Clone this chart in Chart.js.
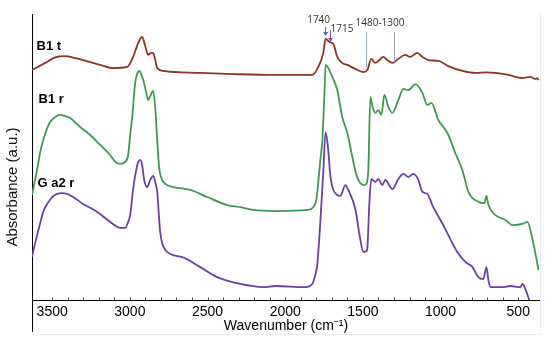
<!DOCTYPE html>
<html>
<head>
<meta charset="utf-8">
<script src="https://cdn.jsdelivr.net/npm/chart.js@4"></script>
<style>
  body { margin: 0; background: #fff; }
  #wrap { width: 550px; height: 344px; }
</style>
</head>
<body>
<div id="wrap"><canvas id="ftir"></canvas></div>
<script>
// B1 t (top trace)
const b1tWn = [3630, 3545, 3481, 3416, 3352, 3301, 3191, 3107, 3017, 2979, 2946, 2921, 2901, 2882, 2863, 2850, 2824, 2785,
  2547, 2335, 2064, 1826, 1787, 1755, 1740, 1715, 1690, 1665, 1633, 1600, 1549, 1497, 1472, 1446, 1420, 1394, 1369, 1343,
  1311, 1272, 1227, 1195, 1150, 1117, 1079, 1014, 950, 860, 776, 705, 647, 564, 473, 422, 390, 377, 370];
const b1tAbs = [80.4, 82.9, 84.8, 85.3, 84.6, 83.9, 82.2, 81.1, 81.5, 85.0, 89.9, 92.0, 88.8, 85.7, 86.4, 86.4, 81.1, 80.1,
  79.4, 79.0, 78.7, 78.7, 81.5, 86.4, 91.3, 90.2, 89.5, 85.0, 82.9, 82.2, 80.8, 79.7, 80.4, 84.3, 82.9, 83.9, 85.0, 83.9,
  82.9, 84.3, 85.7, 85.0, 86.4, 85.0, 83.9, 83.6, 81.8, 80.1, 79.4, 79.6, 79.4, 78.7, 77.6, 78.0, 77.3, 77.6, 76.9];

// B1 r (middle trace)
const b1rWn = [3630, 3610, 3597, 3577, 3558, 3532, 3513, 3481, 3449, 3416, 3384, 3320, 3255, 3191, 3127, 3094, 3062, 3030,
  3011, 2998, 2985, 2966, 2953, 2940, 2927, 2914, 2895, 2882, 2869, 2850, 2837, 2824, 2811, 2792, 2772, 2721, 2611, 2502,
  2373, 2289, 2206, 2064, 1852, 1819, 1800, 1787, 1774, 1761, 1748, 1740, 1723, 1697, 1665, 1633, 1600, 1568, 1542, 1517,
  1497, 1478, 1465, 1452, 1439, 1420, 1401, 1381, 1362, 1336, 1311, 1272, 1240, 1208, 1162, 1117, 1085, 1059, 1014, 956,
  905, 860, 821, 757, 718, 705, 692, 647, 583, 538, 473, 441, 409, 390, 370];
const b1rAbs = [36.7, 42.0, 45.5, 51.7, 55.9, 60.1, 62.2, 64.0, 64.7, 64.3, 63.6, 60.5, 57.7, 54.2, 50.7, 48.3, 47.6, 48.3,
  50.7, 57.7, 64.0, 75.9, 79.0, 80.1, 79.0, 76.9, 72.7, 69.9, 71.3, 73.1, 67.5, 55.9, 46.1, 42.0, 40.6, 39.5, 38.5, 36.0,
  33.2, 32.5, 31.5, 31.1, 31.5, 32.5, 35.0, 41.3, 49.0, 55.9, 71.7, 82.2, 81.1, 78.0, 73.4, 64.0, 58.4, 50.0, 43.7, 40.9,
  40.2, 40.6, 45.5, 71.0, 67.8, 65.4, 66.4, 64.7, 71.7, 67.5, 65.4, 69.9, 73.8, 73.4, 75.5, 72.4, 68.2, 68.9, 62.9, 58.4,
  51.4, 45.5, 37.8, 34.3, 33.9, 36.4, 33.2, 29.7, 28.0, 26.2, 26.6, 27.3, 21.3, 16.4, 10.5];

// G a2 r (bottom trace)
const ga2rWn = [3630, 3610, 3597, 3577, 3558, 3532, 3500, 3468, 3436, 3404, 3365, 3301, 3210, 3127, 3062, 3030, 3011, 2998,
  2979, 2959, 2946, 2934, 2921, 2908, 2888, 2869, 2850, 2837, 2824, 2805, 2772, 2663, 2547, 2438, 2289, 2141, 2064, 1871,
  1826, 1807, 1794, 1774, 1755, 1740, 1723, 1710, 1665, 1645, 1613, 1594, 1549, 1517, 1497, 1478, 1472, 1459, 1446, 1420,
  1401, 1375, 1356, 1311, 1272, 1240, 1208, 1175, 1143, 1117, 1085, 1053, 969, 937, 892, 840, 795, 757, 725, 705, 692, 679,
  602, 551, 486, 473, 454, 429];
const ga2rAbs = [15.0, 19.9, 22.7, 26.9, 30.8, 33.6, 36.0, 37.1, 37.4, 37.1, 36.0, 33.6, 30.8, 27.3, 25.2, 25.2, 27.3, 29.7,
  38.8, 45.5, 48.3, 49.0, 47.2, 42.0, 39.5, 42.0, 43.4, 41.3, 37.8, 23.8, 17.5, 15.0, 11.5, 8.0, 5.6, 4.5, 4.9, 4.5,
  5.6, 8.7, 12.2, 27.3, 44.8, 58.7, 52.4, 43.7, 36.7, 36.4, 40.2, 38.5, 31.8, 21.3, 16.8, 17.1, 17.8, 33.2, 42.3, 41.3,
  42.3, 40.2, 42.0, 38.8, 42.3, 44.1, 43.0, 44.1, 42.0, 37.8, 37.1, 33.2, 24.8, 21.3, 16.8, 13.3, 11.5, 8.0, 7.3, 11.5, 7.0, 4.5,
  4.5, 4.9, 4.5, 5.6, 3.8, 0];

const seriesNames = ['B1 t', 'B1 r', 'G a2 r'];
const xTickLabels = [3500, 3000, 2500, 2000, 1500, 1000, 500];
const bandMarks = [1740, 1715];
const bandRange = [1480, 1300];

function pairs(wn, abs) {
  return wn.map((w, i) => ({ x: w, y: abs[i] }));
}

const extras = {
  id: 'extras',
  afterDraw(chart) {
    const { ctx, chartArea, scales } = chart;
    const x = scales.x;
    const left = chartArea.left + 0.5;
    ctx.save();

    // faint outer frame
    ctx.strokeStyle = '#ececec';
    ctx.lineWidth = 1;
    ctx.beginPath();
    ctx.moveTo(540.5, chartArea.top);
    ctx.lineTo(540.5, 334.5);
    ctx.lineTo(left, 334.5);
    ctx.stroke();

    // left axis runs below the x axis
    ctx.strokeStyle = '#000';
    ctx.beginPath();
    ctx.moveTo(left, chartArea.bottom);
    ctx.lineTo(left, chartArea.bottom + 32);
    ctx.stroke();

    // small inward ticks every 100 cm-1
    ctx.strokeStyle = '#333';
    ctx.beginPath();
    x.ticks.forEach(t => {
      const px = Math.round(x.getPixelForValue(t.value)) + 0.5;
      if (px <= chartArea.left + 1 || px >= chartArea.right - 1) return;
      ctx.moveTo(px, chartArea.bottom);
      ctx.lineTo(px, chartArea.bottom - 2.5);
    });
    ctx.stroke();

    // y title
    ctx.fillStyle = '#111';
    ctx.font = '15px "Liberation Sans", Arial, sans-serif';
    ctx.textAlign = 'center';
    ctx.textBaseline = 'middle';
    ctx.save();
    ctx.translate(13, 187);
    ctx.rotate(-Math.PI / 2);
    ctx.fillText('Absorbance (a.u.)', 0, 0);
    ctx.restore();

    // trace names
    ctx.font = 'bold 13px "Liberation Sans", Arial, sans-serif';
    ctx.textAlign = 'left';
    ctx.fillStyle = '#000';
    ctx.fillText(seriesNames[0], left + 4, 46);
    ctx.fillText(seriesNames[1], left + 6, 99);
    ctx.fillText(seriesNames[2], left + 5, 183);

    // band annotations
    ctx.font = '10px "Open Sans", sans-serif';
    ctx.fillStyle = '#333';
    const p1740 = x.getPixelForValue(bandMarks[0]);
    const p1715 = x.getPixelForValue(bandMarks[1]);
    ctx.textAlign = 'center';
    ctx.fillText(String(bandMarks[0]), p1740 - 7, 20);
    ctx.textAlign = 'left';
    ctx.fillText(String(bandMarks[1]), p1715 + 1, 29);
    ctx.textAlign = 'center';
    const pa = x.getPixelForValue(bandRange[0]);
    const pb = x.getPixelForValue(bandRange[1]);
    ctx.fillText(bandRange[0] + '-' + bandRange[1], (pa + pb) / 2, 23);

    // arrows
    function arrow(px, y0, y1, col) {
      ctx.strokeStyle = col;
      ctx.fillStyle = col;
      ctx.lineWidth = 1;
      ctx.beginPath();
      ctx.moveTo(px, y0);
      ctx.lineTo(px, y1 - 3);
      ctx.stroke();
      ctx.beginPath();
      ctx.moveTo(px - 2.5, y1 - 4);
      ctx.lineTo(px + 2.5, y1 - 4);
      ctx.lineTo(px, y1);
      ctx.closePath();
      ctx.fill();
    }
    arrow(p1740, 27, 36, '#4b5fc4');
    arrow(p1715 + 1, 30, 42, '#8a4fd0');

    ctx.strokeStyle = '#9aa6cc';
    ctx.beginPath();
    ctx.moveTo(Math.round(pa) + 0.5, 32);
    ctx.lineTo(Math.round(pa) + 0.5, 67);
    ctx.moveTo(Math.round(pb) + 0.5, 32);
    ctx.lineTo(Math.round(pb) + 0.5, 62);
    ctx.stroke();

    ctx.restore();
  }
};

new Chart(document.getElementById('ftir'), {
  type: 'line',
  data: {
    datasets: [
      { label: seriesNames[0], data: pairs(b1tWn, b1tAbs), borderColor: '#8e3420', borderWidth: 1.8 },
      { label: seriesNames[1], data: pairs(b1rWn, b1rAbs), borderColor: '#3e9a50', borderWidth: 1.8 },
      { label: seriesNames[2], data: pairs(ga2rWn, ga2rAbs), borderColor: '#6840a6', borderWidth: 1.8 }
    ]
  },
  options: {
    responsive: true,
    maintainAspectRatio: false,
    animation: false,
    layout: { padding: { left: 0, top: 14, right: 10, bottom: 0 } },
    elements: {
      point: { radius: 0 },
      line: { cubicInterpolationMode: 'monotone' }
    },
    plugins: {
      legend: { display: false },
      tooltip: { enabled: false }
    },
    scales: {
      x: {
        type: 'linear',
        reverse: true,
        min: 360,
        max: 3630,
        afterFit: s => { s.height = 44; },
        afterBuildTicks: s => { s.ticks = s.ticks.filter(t => t.value % 100 === 0); },
        ticks: {
          stepSize: 100,
          autoSkip: false,
          maxRotation: 0,
          padding: 4,
          color: '#000',
          font: { family: '"Liberation Sans", Arial, sans-serif', size: 14 },
          callback: v => xTickLabels.includes(v) ? String(v) : ''
        },
        grid: { display: false, drawOnChartArea: false, drawTicks: false },
        border: { display: true, color: '#000', width: 1 },
        title: {
          display: true,
          text: 'Wavenumber (cm⁻¹)',
          color: '#000',
          font: { family: '"Liberation Sans", Arial, sans-serif', size: 14 },
          padding: { top: 0, bottom: 9 }
        }
      },
      y: {
        min: 0,
        max: 100,
        afterFit: s => { s.width = 32; },
        ticks: { display: false },
        grid: { display: false, drawTicks: false },
        border: { display: true, color: '#000', width: 1 }
      }
    }
  },
  plugins: [extras]
});
</script>
</body>
</html>
